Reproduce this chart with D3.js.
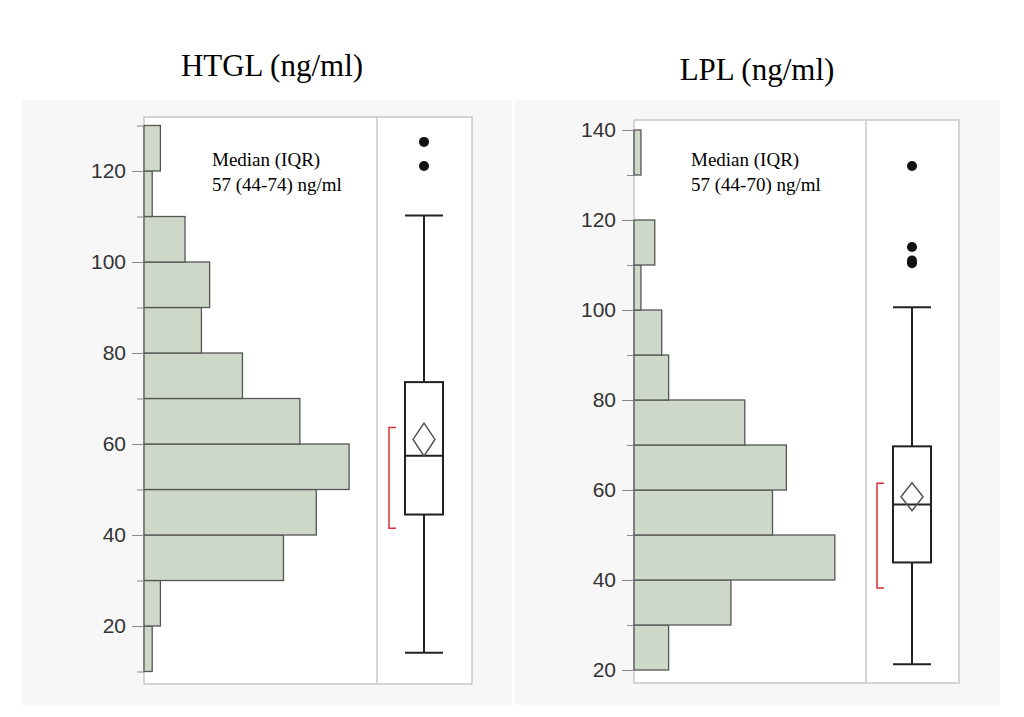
<!DOCTYPE html>
<html><head><meta charset="utf-8">
<script src="https://cdn.jsdelivr.net/npm/d3@7"></script>
<style>body{margin:0;background:#fff}</style>
</head><body>
<script>
// HTGL
var htglBins = [10,20,30,40,50,60,70,80,90,100,110,120,130];
var htglCounts = [1,2,17,21,25,19,12,7,8,5,1,2];
var htglTicks = [20,40,60,80,100,120];
var htglBox = {lo:14.1, q1:44.5, med:57.4, q3:73.6, hi:110.2, mean:61, meanHalf:3.6, shortLo:41.5, shortHi:63.6};
var htglOutliers = [126.4, 121.1];
// LPL
var lplBins = [20,30,40,50,60,70,80,90,100,110,120,130,140];
var lplCounts = [5,14,29,20,22,16,5,4,1,3,0,1];
var lplTicks = [20,40,60,80,100,120,140];
var lplBox = {lo:21.3, q1:43.9, med:56.8, q3:69.7, hi:100.6, mean:58.5, meanHalf:3.1, shortLo:38.2, shortHi:61.5};
var lplOutliers = [132, 114, 111, 110.4];

var svg = d3.select("body").append("svg").attr("width",1024).attr("height",717);

function panel(o) {
    svg.append("rect").attr("x",o.bg[0]).attr("y",100).attr("width",o.bg[1]-o.bg[0]).attr("height",605).attr("fill","#f7f7f7");
    svg.append("text").attr("x",o.titleX).attr("y",o.titleY).attr("text-anchor","middle")
        .attr("font-family","Liberation Serif").attr("font-size",31).text(o.title);
    var y = d3.scaleLinear().domain(o.ydom).range(o.yrange);
    var x = d3.scaleLinear().domain([0,o.xmax]).range([o.x0,o.xdiv]);
    svg.append("rect").attr("x",o.x0).attr("y",o.top).attr("width",o.x1-o.x0).attr("height",o.bot-o.top)
        .attr("fill","#fff").attr("stroke","#c8c8c8").attr("stroke-width",1.5);
    svg.append("line").attr("x1",o.xdiv).attr("x2",o.xdiv).attr("y1",o.top).attr("y2",o.bot).attr("stroke","#c8c8c8").attr("stroke-width",1.5);
    // histogram
    var hist = o.counts.map((c,i) => ({c:c, lo:o.bins[i], hi:o.bins[i+1]})).filter(d => d.c > 0);
    svg.append("g").selectAll("rect").data(hist).join("rect")
        .attr("x",x(0)).attr("width",d => x(d.c)-x(0))
        .attr("y",d => y(d.hi)).attr("height",d => y(d.lo)-y(d.hi))
        .attr("fill","#cdd8c8").attr("stroke","#555").attr("stroke-width",1.3);
    // axis
    var ax = svg.append("g").attr("transform","translate("+(o.x0)+",0)")
        .call(d3.axisLeft(y).tickValues(o.ticks).tickSize(12).tickPadding(6));
    ax.select(".domain").remove();
    ax.selectAll("line").attr("stroke","#888");
    ax.selectAll("text").attr("font-family","Liberation Sans").attr("font-size",21).attr("fill","#333");
    var minor = svg.append("g").attr("transform","translate("+(o.x0)+",0)")
        .call(d3.axisLeft(y).tickValues(o.bins.filter(v => o.ticks.indexOf(v) < 0)).tickSize(7).tickFormat(""));
    minor.select(".domain").remove();
    minor.selectAll("line").attr("stroke","#888");
    // annotation
    svg.append("text").attr("x",o.annX).attr("y",166).attr("font-family","Liberation Serif").attr("font-size",19).text("Median (IQR)");
    svg.append("text").attr("x",o.annX).attr("y",191).attr("font-family","Liberation Serif").attr("font-size",19).text(o.ann);
    // box plot
    var b = o.box, c = o.bc, hw = 19, g = svg.append("g").attr("stroke","#222").attr("stroke-width",2).attr("fill","none");
    g.append("line").attr("x1",c).attr("x2",c).attr("y1",y(b.hi)).attr("y2",y(b.q3));
    g.append("line").attr("x1",c).attr("x2",c).attr("y1",y(b.q1)).attr("y2",y(b.lo));
    g.append("line").attr("x1",c-hw).attr("x2",c+hw).attr("y1",y(b.hi)).attr("y2",y(b.hi));
    g.append("line").attr("x1",c-hw).attr("x2",c+hw).attr("y1",y(b.lo)).attr("y2",y(b.lo));
    g.append("rect").attr("x",c-hw).attr("width",2*hw).attr("y",y(b.q3)).attr("height",y(b.q1)-y(b.q3)).attr("fill","#fff");
    g.append("line").attr("x1",c-hw).attr("x2",c+hw).attr("y1",y(b.med)).attr("y2",y(b.med));
    g.append("path").attr("stroke","#555").attr("stroke-width",1.5)
        .attr("d","M"+c+","+y(b.mean+b.meanHalf)+"L"+(c+11)+","+y(b.mean)+"L"+c+","+y(b.mean-b.meanHalf)+"L"+(c-11)+","+y(b.mean)+"Z");
    svg.append("path").attr("fill","none").attr("stroke","#d9303a").attr("stroke-width",1.5)
        .attr("d","M"+(o.brX+7)+","+y(b.shortHi)+"H"+o.brX+"V"+y(b.shortLo)+"H"+(o.brX+7));
    svg.append("g").selectAll("circle").data(o.out).join("circle")
        .attr("cx",c).attr("cy",d => y(d)).attr("r",5).attr("fill","#111");
}

panel({bg:[22,512], title:"HTGL (ng/ml)", titleX:272, titleY:76, ydom:[20,120], yrange:[626,171],
    xmax:28.4, x0:144, xdiv:377, x1:472, top:117, bot:684, counts:htglCounts, bins:htglBins, ticks:htglTicks,
    annX:212, ann:"57 (44-74) ng/ml", box:htglBox, bc:424, brX:389, out:htglOutliers});
panel({bg:[515,1000], title:"LPL (ng/ml)", titleX:757, titleY:80, ydom:[20,140], yrange:[670,130],
    xmax:33.5, x0:634, xdiv:866, x1:959, top:120, bot:683, counts:lplCounts, bins:lplBins, ticks:lplTicks,
    annX:691, ann:"57 (44-70) ng/ml", box:lplBox, bc:912, brX:877, out:lplOutliers});
</script>
</body></html>
